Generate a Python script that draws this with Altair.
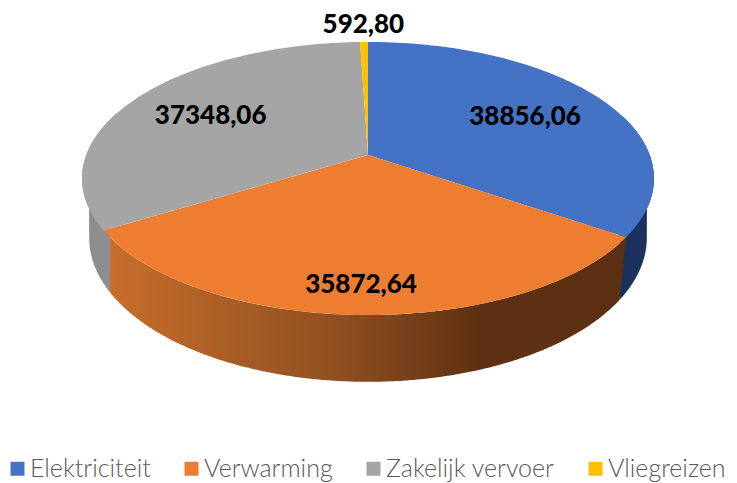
import numpy as np
import pandas as pd
import altair as alt

categories = ["Elektriciteit", "Verwarming", "Zakelijk vervoer", "Vliegreizen"]
values = [38856.06, 35872.64, 37348.06, 592.80]
value_labels = ["38856,06", "35872,64", "37348,06", "592,80"]
colors = ["#4472C4", "#ED7D31", "#A5A5A5", "#FFC000"]
label_radius = [0.665, 0.834, 0.67, 1.19]

# perspective geometry of the disc, in chart pixels
W, H = 721, 474
CX, CY, A, B, K = 360, 147, 281.7, 132.5, 0.172
S, T, CY2 = 0.975, 1.055, 205


def top(theta, r=1.0):
    u, v = r * np.sin(theta), -r * np.cos(theta)
    w = 1 - K * v
    return CX + A * u / w, CY + B * v / w


def bottom(theta):
    x, y = top(theta)
    return CX + (x - CX) * S, CY2 + (y - CY) * T


def envelope(px, py):
    px, py = np.asarray(px), np.asarray(py)
    qx, qy = np.roll(px, -1), np.roll(py, -1)
    rows = []
    for x in np.unique(np.round(px, 2)):
        hit = []
        for x0, y0, x1, y1 in zip(px, py, qx, qy):
            lo, hi = min(x0, x1), max(x0, x1)
            if lo - 0.01 <= x <= hi + 0.01:
                t = 0 if abs(x1 - x0) < 1e-9 else np.clip((x - x0) / (x1 - x0), 0, 1)
                hit.append(y0 + t * (y1 - y0))
        if hit:
            rows.append((x, min(hit), max(hit)))
    return pd.DataFrame(rows, columns=["x", "y", "y2"])


fractions = np.cumsum([0] + values) / sum(values)
edges = fractions * 2 * np.pi

xs = alt.X("x:Q", scale=alt.Scale(domain=[0, W]), axis=None)
ys = alt.Y("y:Q", scale=alt.Scale(domain=[H, 0]), axis=None)

# top faces
faces = []
for i, name in enumerate(categories):
    th = np.linspace(edges[i], edges[i + 1], 90)
    rx, ry = top(th)
    d = envelope(np.r_[CX, rx], np.r_[CY, ry])
    d["cat"] = name
    faces.append(d)
faces = pd.concat(faces)
face_layer = alt.Chart(faces).mark_area(interpolate="linear").encode(
    x=xs,
    y=ys,
    y2="y2:Q",
    color=alt.Color(
        "cat:N",
        scale=alt.Scale(domain=categories, range=colors),
        sort=categories,
        legend=alt.Legend(
            title=None,
            orient="none",
            legendX=-3,
            legendY=448,
            direction="horizontal",
            columns=4,
            symbolType="square",
            symbolSize=196,
            symbolStrokeWidth=0,
            labelFont="Lato",
            labelFontWeight=300,
            labelFontSize=25,
            labelColor="#595959",
            labelOffset=0,
            columnPadding=28,
            labelLimit=300,
        ),
    ),
    detail="cat:N",
)


def wall(a0, a1, stops):
    th = np.radians(np.linspace(a0, a1, 160))
    tx, ty = top(th)
    bx, by = bottom(th)
    d = envelope(np.r_[tx, bx[::-1]], np.r_[ty, by[::-1]])
    return alt.Chart(d).mark_area(
        color=alt.Gradient(
            gradient="linear",
            x1=0, x2=1, y1=0, y2=0,
            stops=[alt.GradientStop(offset=o, color=c) for o, c in stops],
        )
    ).encode(x=xs, y=ys, y2="y2:Q")


deg = np.degrees(edges)
wall_blue = wall(72, deg[1], [(0, "#1c325e"), (1, "#1c325e")])
wall_orange = wall(deg[1], deg[2], [(0, "#c96f2b"), (0.45, "#8f4f20"), (0.72, "#5f3112"), (1, "#5c3012")])
wall_grey = wall(deg[2], 288, [(0, "#8c8c8c"), (1, "#8f8f8f")])

# data labels
mid = (edges[:-1] + edges[1:]) / 2
lx, ly = top(mid, np.array(label_radius))
labels = pd.DataFrame({"x": lx, "y": ly, "t": value_labels})
label_layer = alt.Chart(labels).mark_text(
    font="Lato", fontWeight=900, fontSize=26, color="#000000", baseline="middle", align="center", dy=1
).encode(x=xs, y=ys, text="t:N")

chart = (
    alt.layer(wall_blue, wall_orange, wall_grey, face_layer, label_layer)
    .properties(width=W, height=H, padding=0, autosize=alt.AutoSizeParams(type="none"))
    .configure_view(stroke=None)
)
chart.save("out.html", embed_options={"renderer": "svg", "actions": False})
